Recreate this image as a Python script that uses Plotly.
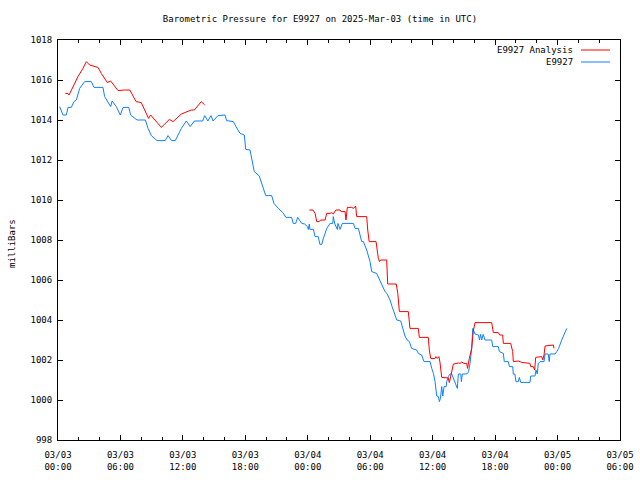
import pandas as pd
import plotly.graph_objects as go

# ---- data (hours after 2025-03-03 00:00 UTC, pressure in mb) ----
base_time = "2025-03-03 00:00"

analysis_hours_1 = [0.70, 0.96, 1.06, 1.44, 1.92, 2.40, 2.72, 3.04, 3.84, 4.16, 4.74, 5.06, 5.77,
                    6.40, 6.90, 7.50, 8.00, 8.70, 8.90, 9.93, 10.70, 11.05, 11.85, 12.80, 13.10,
                    13.77, 14.10]
analysis_mb_1 = [1015.33, 1015.33, 1015.25, 1015.67, 1016.17, 1016.58, 1016.92, 1016.75, 1016.63,
                 1016.33, 1015.87, 1015.95, 1015.47, 1015.50, 1015.50, 1014.92, 1014.87, 1014.08,
                 1014.25, 1013.63, 1014.03, 1013.92, 1014.30, 1014.50, 1014.50, 1014.92, 1014.75]

analysis_hours_2 = [24.15, 24.50, 24.70, 24.86, 25.10, 25.24, 25.66, 25.82, 26.14, 26.30, 26.45,
                    26.70, 27.10, 27.20, 27.58, 27.67, 27.80, 28.22, 28.40, 28.60, 28.70, 29.66,
                    29.76, 29.90, 30.56, 30.62, 30.78, 30.90, 31.00, 31.58, 31.68, 32.50, 32.65,
                    32.80, 33.66, 33.82, 34.62, 34.72, 35.58, 35.68, 35.81, 36.22, 36.32, 36.45,
                    36.60, 36.70, 36.87, 37.50, 37.60, 37.70, 37.83, 37.99, 38.47, 38.63, 38.80,
                    39.00, 39.27, 39.35, 39.52, 39.75, 39.90, 40.07, 41.67, 41.83, 42.31, 42.45,
                    42.73, 42.79, 43.50, 43.69, 43.75, 44.23, 44.55, 45.35, 45.42, 45.67, 45.80,
                    45.90, 46.48, 46.58, 46.70, 46.80, 47.60, 47.66]
analysis_mb_2 = [1009.50, 1009.50, 1009.33, 1008.92, 1008.92, 1009.00, 1009.00, 1009.33, 1009.33,
                 1009.37, 1009.30, 1009.50, 1009.50, 1009.42, 1009.42, 1009.00, 1009.63, 1009.63,
                 1009.58, 1009.70, 1009.17, 1009.17, 1008.50, 1007.92, 1007.92, 1007.67, 1007.08,
                 1006.92, 1007.00, 1007.00, 1005.80, 1005.80, 1005.33, 1004.42, 1004.42, 1003.58,
                 1003.58, 1003.13, 1003.13, 1002.50, 1002.08, 1002.08, 1002.17, 1002.08, 1002.17,
                 1001.90, 1001.13, 1001.10, 1000.87, 1001.10, 1001.50, 1001.80, 1001.85, 1001.83,
                 1001.90, 1001.83, 1001.83, 1001.58, 1002.08, 1002.58, 1003.42, 1003.87, 1003.87,
                 1003.37, 1003.37, 1003.25, 1003.25, 1002.83, 1002.83, 1002.42, 1001.92, 1001.95,
                 1001.88, 1001.83, 1001.67, 1001.67, 1001.50, 1002.13, 1002.17, 1002.00, 1002.25,
                 1002.70, 1002.75, 1002.58]

station_hours = [0.16, 0.48, 0.80, 0.96, 1.28, 1.54, 1.76, 2.08, 2.56, 3.20, 3.46, 4.32, 4.48,
                 4.80, 5.06, 5.20, 5.60, 5.99, 6.25, 6.80, 6.98, 7.60, 8.40, 8.65, 8.97, 9.51,
                 10.30, 10.57, 10.90, 11.27, 11.85, 12.33, 12.70, 13.10, 13.90, 14.10, 14.40,
                 14.70, 14.90, 15.37, 16.05, 16.20, 16.85, 17.10, 17.49, 17.90, 18.04, 18.45,
                 18.67, 18.86, 19.34, 19.73, 19.96, 20.53, 20.75, 21.17, 21.60, 21.90, 22.45,
                 22.60, 22.84, 23.03, 23.42, 23.70, 23.96, 24.05, 24.15, 24.20, 24.54, 24.70,
                 25.00, 25.17, 25.34, 25.50, 25.82, 26.14, 26.40, 26.45, 26.60, 26.84, 26.90,
                 27.10, 27.32, 28.38, 28.54, 28.86, 29.02, 29.18, 29.34, 29.66, 29.98, 30.14,
                 30.62, 30.87, 31.20, 31.42, 31.60, 31.90, 32.10, 32.38, 32.55, 32.93, 33.12,
                 33.34, 33.55, 33.76, 33.98, 34.46, 34.62, 34.94, 35.17, 35.75, 35.91, 36.07,
                 36.23, 36.39, 36.55, 36.65, 36.75, 36.87, 36.97, 37.10, 37.30, 37.35, 37.51,
                 37.67, 37.83, 37.99, 38.24, 38.37, 38.47, 38.70, 38.76, 38.85, 39.20, 39.35,
                 39.45, 39.59, 39.75, 39.85, 39.95, 40.07, 40.40, 40.50, 40.60, 40.71, 40.85,
                 41.03, 41.67, 41.77, 42.31, 42.41, 42.79, 42.88, 43.27, 43.37, 43.69, 43.75,
                 43.90, 44.00, 44.23, 44.33, 44.46, 45.35, 45.42, 45.83, 45.93, 46.05, 46.15,
                 46.32, 46.70, 46.80, 47.10, 47.20, 47.27, 47.76, 47.92, 48.10, 48.40, 48.72,
                 48.88]
station_mb = [1014.67, 1014.25, 1014.25, 1014.63, 1014.63, 1014.92, 1015.00, 1015.58, 1015.92,
              1015.92, 1015.63, 1015.63, 1015.17, 1014.92, 1014.67, 1014.95, 1014.67, 1014.25,
              1014.63, 1014.63, 1014.25, 1014.00, 1014.00, 1013.58, 1013.22, 1012.97, 1012.97,
              1013.22, 1012.97, 1012.97, 1013.58, 1013.95, 1013.67, 1013.95, 1013.95, 1014.22,
              1013.95, 1014.22, 1013.95, 1014.22, 1014.25, 1013.97, 1013.92, 1013.67, 1013.33,
              1013.25, 1012.53, 1012.50, 1012.00, 1011.42, 1011.20, 1010.58, 1010.22, 1010.22,
              1009.83, 1009.58, 1009.37, 1009.13, 1009.13, 1008.83, 1008.83, 1009.13, 1008.83,
              1008.80, 1008.67, 1008.53, 1008.80, 1008.53, 1008.53, 1008.17, 1008.17, 1007.78,
              1007.78, 1008.08, 1008.58, 1008.83, 1008.83, 1009.17, 1008.80, 1008.53, 1008.83,
              1008.53, 1008.83, 1008.83, 1008.58, 1008.58, 1008.20, 1007.92, 1007.92, 1007.50,
              1006.92, 1006.42, 1006.33, 1006.03, 1005.67, 1005.42, 1005.33, 1005.00, 1004.67,
              1004.25, 1004.00, 1003.95, 1003.58, 1003.20, 1003.00, 1002.92, 1002.58, 1002.50,
              1002.33, 1002.25, 1001.92, 1001.92, 1001.58, 1001.33, 1000.92, 1000.20, 1000.17,
              999.92, 1000.10, 1000.67, 1000.20, 1000.67, 1000.67, 1000.92, 1001.17, 1001.30,
              1001.30, 1001.08, 1000.83, 1000.58, 1001.30, 1001.30, 1000.92, 1001.30, 1001.30,
              1001.33, 1001.42, 1001.83, 1002.58, 1003.58, 1003.45, 1003.30, 1003.25, 1003.00,
              1003.28, 1003.00, 1003.28, 1003.00, 1003.00, 1002.67, 1002.67, 1002.42, 1002.33,
              1001.92, 1001.92, 1001.67, 1001.67, 1001.30, 1001.30, 1000.92, 1000.92, 1001.13,
              1000.88, 1000.88, 1001.20, 1001.20, 1001.50, 1001.30, 1001.83, 1001.92, 1001.92,
              1002.30, 1002.30, 1001.92, 1002.30, 1002.30, 1002.42, 1002.58, 1003.00, 1003.42,
              1003.58]

y_ticks = [998, 1000, 1002, 1004, 1006, 1008, 1010, 1012, 1014, 1016, 1018]
x_tick_hours = [0, 6, 12, 18, 24, 30, 36, 42, 48, 54]
x_tick_labels = ["03/03<br>00:00", "03/03<br>06:00", "03/03<br>12:00", "03/03<br>18:00",
                 "03/04<br>00:00", "03/04<br>06:00", "03/04<br>12:00", "03/04<br>18:00",
                 "03/05<br>00:00", "03/05<br>06:00"]

t0 = pd.Timestamp(base_time)


def to_time(hours):
    return [t0 + pd.Timedelta(hours=h) for h in hours]


analysis_x = to_time(analysis_hours_1) + [None] + to_time(analysis_hours_2)
analysis_y = analysis_mb_1 + [None] + analysis_mb_2

FONT = "DejaVu Sans Mono"
FS = 9
RED = "#ff0000"
BLUE = "#1080ff"

fig = go.Figure()
fig.add_trace(go.Scatter(x=to_time(station_hours), y=station_mb, mode="lines",
                         line=dict(color=BLUE, width=1), name="E9927", connectgaps=False))
fig.add_trace(go.Scatter(x=analysis_x, y=analysis_y, mode="lines",
                         line=dict(color=RED, width=1), name="E9927 Analysis", connectgaps=False))

fig.update_layout(
    width=640, height=480,
    margin=dict(l=58, r=20, t=40, b=40, autoexpand=False),
    paper_bgcolor="white", plot_bgcolor="white",
    showlegend=False,
    font=dict(family=FONT, size=FS, color="black"),
    title=dict(text="Barometric Pressure for E9927 on 2025-Mar-03 (time in UTC)",
               x=0.5, xref="container", xanchor="center",
               y=1 - 19 / 480, yref="container", yanchor="middle",
               font=dict(family=FONT, size=FS, color="black")),
)

fig.update_xaxes(
    type="date", automargin=False,
    range=[t0, t0 + pd.Timedelta(hours=54)],
    tickmode="array",
    tickvals=to_time(x_tick_hours),
    ticktext=x_tick_labels,
    ticks="inside", ticklen=5, tickcolor="black", tickwidth=1,
    ticklabelstandoff=6,
    minor=dict(ticks="inside", ticklen=3, tickcolor="black", dtick=2 * 3600 * 1000,
               tick0=t0, showgrid=False),
    showline=True, linecolor="black", linewidth=1, mirror="ticks",
    showgrid=False, zeroline=False,
    tickfont=dict(family=FONT, size=FS, color="black"),
)
fig.update_yaxes(
    range=[998, 1018], automargin=False,
    tickmode="array", tickvals=y_ticks, ticktext=[str(v) for v in y_ticks],
    ticks="inside", ticklen=5, tickcolor="black", tickwidth=1,
    ticklabelstandoff=3,
    showline=True, linecolor="black", linewidth=1, mirror="ticks",
    showgrid=False, zeroline=False,
    tickfont=dict(family=FONT, size=FS, color="black"),
)

# y-axis label
fig.add_annotation(text="milliBars", textangle=-90, xref="paper", yref="paper",
                   x=(12 - 58) / 562, y=0.49, xanchor="center", yanchor="middle",
                   showarrow=False, font=dict(family=FONT, size=FS, color="black"))

# gnuplot-style key (text then line sample)
legend_rows = [("E9927 Analysis", RED, 50), ("E9927", BLUE, 62)]
for label, color, py in legend_rows:
    yp = (440 - py) / 400
    fig.add_annotation(text=label, xref="paper", yref="paper",
                       x=(575 - 58) / 562, y=yp, xanchor="right", yanchor="middle",
                       showarrow=False, font=dict(family=FONT, size=FS, color="black"))
    fig.add_shape(type="line", xref="paper", yref="paper",
                  x0=(581 - 58) / 562, x1=(610 - 58) / 562, y0=yp, y1=yp,
                  line=dict(color=color, width=1))

fig.write_html("out.html", config={"displayModeBar": False},
               post_script="document.body.style.margin='0';document.body.style.padding='0';")
